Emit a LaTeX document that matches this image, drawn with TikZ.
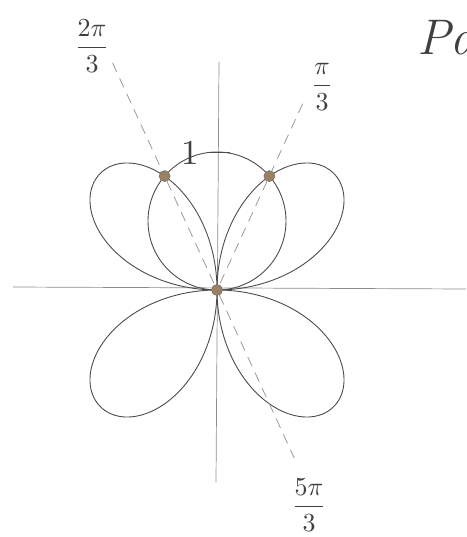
\documentclass[tikz,border=0pt]{standalone}
\usepackage{amsmath}
\usepackage{graphicx}
\begin{document}
\begin{tikzpicture}[x=1pt,y=-1pt,
  curve/.style={draw=black!70, line width=0.9pt},
  axis/.style={draw=black!45, line width=0.7pt},
  ray/.style={draw=black!40, line width=0.8pt, dash pattern=on 10pt off 7pt},
  dot/.style={circle, fill=brown!45!gray, draw=black!55, line width=0.6pt, minimum size=11pt, inner sep=0pt},
  lab/.style={text=black!75, inner sep=1pt}]
\useasboundingbox (0,0) rectangle (466,537);
% axes
\coordinate (XL) at (13,287);
\coordinate (XR) at (466,289);
\coordinate (YT) at (219,62);
\coordinate (YB) at (216,482);
\draw[axis] (XL) -- (XR);
\draw[axis] (YT) -- (YB);
% curves
\begin{scope}[shift={(217,290)}, yscale=-1]
  \draw[curve] plot[domain=0:360, samples=361]
     ({165*sin(2*\x)*cos(\x)}, {165*sin(2*\x)*sin(\x)});
  \draw[curve] (0,69) circle[radius=69];
  \node[dot] (O) at (0,0) {};
  \node[dot] (P1) at (65.3:125.4) {};
  \node[dot] (P2) at (114.7:125.4) {};
  \coordinate (R1) at (65.3:205);
  \coordinate (R2) at (114.7:250);
  \coordinate (R3) at (-65.3:185);
\end{scope}
% dashed rays
\draw[ray] (R1) -- (P1);
\draw[ray] (P1) -- (O);
\draw[ray] (R2) -- (P2);
\draw[ray] (P2) -- (O);
\draw[ray] (O) -- (R3);
% tick at r = 1
\coordinate (TKa) at (208,152);
\coordinate (TKb) at (230,152);
\draw[curve] (TKa) -- (TKb);
% labels
\node[lab] (L2) at (92,46) {\scalebox{2.6}{$\dfrac{2\pi}{3}$}};
\node[lab] (L1) at (322,87) {\scalebox{2.6}{$\dfrac{\pi}{3}$}};
\node[lab] (L5) at (309,505) {\scalebox{2.6}{$\dfrac{5\pi}{3}$}};
\node[lab] (one) at (190,153) {\scalebox{3.5}{1}};
\node[anchor=base west, font=\fontsize{50}{60}\selectfont\itshape, text=black!75] (pa) at (414,55) {Pa};
\end{tikzpicture}
\end{document}
